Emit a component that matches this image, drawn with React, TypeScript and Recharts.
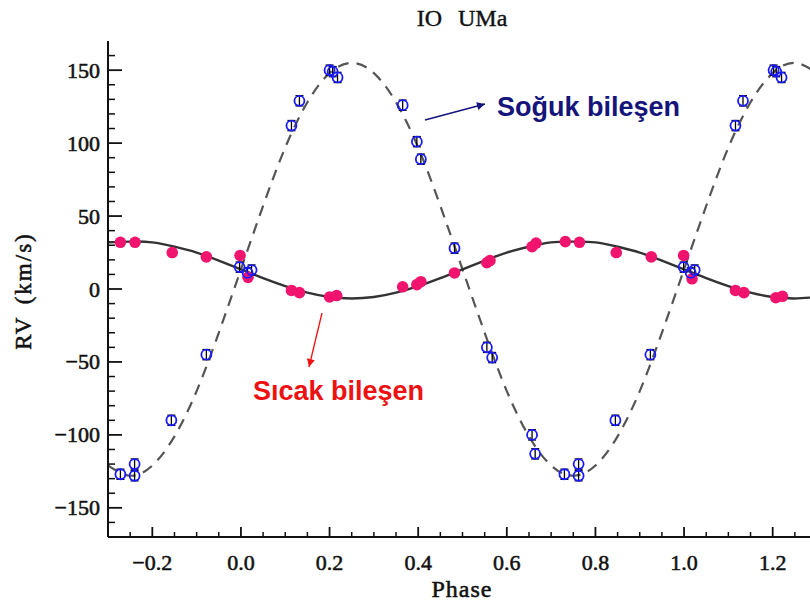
import React from 'react';
import { ComposedChart, Line, Scatter, XAxis, YAxis, ErrorBar } from 'recharts';

// Cold component (Soğuk bileşen) radial velocities
const coldPhase = [-0.272, -0.24, -0.24, -0.157, -0.078, -0.003, 0.015, 0.024, 0.114, 0.132, 0.2, 0.207, 0.218, 0.365, 0.397, 0.406, 0.482, 0.555, 0.567, 0.657, 0.664, 0.73, 0.762, 0.762, 0.845, 0.924, 0.999, 1.015, 1.024, 1.116, 1.133, 1.202, 1.208, 1.22];
const coldRV = [-127, -120, -128, -90, -45, 15, 11, 13, 112, 129, 150, 149, 145, 126, 101, 89, 28, -40, -47, -100, -113, -127, -120, -128, -90, -45, 15, 11, 13, 112, 129, 150, 149, 145];
const coldErr = [3.5, 3.5, 3.5, 3.5, 3.5, 3.5, 3.5, 3.5, 3.5, 3.5, 3.5, 3.5, 3.5, 3.5, 3.5, 3.5, 3.5, 3.5, 3.5, 3.5, 3.5, 3.5, 3.5, 3.5, 3.5, 3.5, 3.5, 3.5, 3.5, 3.5, 3.5, 3.5, 3.5, 3.5];

// Hot component (Sıcak bileşen) radial velocities
const hotPhase = [-0.272, -0.239, -0.155, -0.078, -0.002, 0.016, 0.114, 0.132, 0.2, 0.216, 0.365, 0.397, 0.406, 0.482, 0.555, 0.562, 0.657, 0.666, 0.732, 0.764, 0.847, 0.926, 0.999, 1.018, 1.116, 1.135, 1.207, 1.222];
const hotRV = [32, 32, 25, 22, 23, 8, -1, -2.5, -5.5, -4.5, 1.5, 3, 5, 11, 18, 19.5, 29, 31.5, 32.5, 32, 25, 22, 23, 7, -1, -2.5, -6, -5];

// Fitted orbit curves
const fitPhase = [-0.3, -0.25, -0.2, -0.15, -0.1, -0.05, 0, 0.05, 0.1, 0.15, 0.2, 0.25, 0.3, 0.35, 0.4, 0.45, 0.5, 0.55, 0.6, 0.65, 0.7, 0.75, 0.8, 0.85, 0.9, 0.95, 1.0, 1.05, 1.1, 1.15, 1.2, 1.25, 1.3];
const coldFitRV = [-121, -128, -121, -101, -70, -30, 13.5, 57, 97, 128, 148, 155, 148, 128, 97, 57, 13.5, -30, -70, -101, -121, -128, -121, -101, -70, -30, 13.5, 57, 97, 128, 148, 155, 148];
const hotFitRV = [32, 32.5, 32, 29, 25, 19.5, 13.5, 7.5, 2, -2.5, -5.5, -6.5, -5.5, -2.5, 2, 7.5, 13.5, 19.5, 25, 29, 32, 32.5, 32, 29, 25, 19.5, 13.5, 7.5, 2, -2.5, -5.5, -6.5, -5.5];

// Axes
const xMajorTicks = [-0.2, 0, 0.2, 0.4, 0.6, 0.8, 1.0, 1.2];
const xTickLabels = ['\u22120.2', '0.0', '0.2', '0.4', '0.6', '0.8', '1.0', '1.2'];
const xMinorTicks = [-0.25, -0.15, -0.1, -0.05, 0.05, 0.1, 0.15, 0.25, 0.3, 0.35, 0.45, 0.5, 0.55, 0.65, 0.7, 0.75, 0.85, 0.9, 0.95, 1.05, 1.1, 1.15, 1.25];
const yMajorTicks = [-150, -100, -50, 0, 50, 100, 150];
const yTickLabels = ['\u2212150', '\u2212100', '\u221250', '0', '50', '100', '150'];
const yMinorTicks = [-160, -140, -130, -120, -110, -90, -80, -70, -60, -40, -30, -20, -10, 10, 20, 30, 40, 60, 70, 80, 90, 110, 120, 130, 140, 160];

const coldData = coldPhase.map((p, i) => ({ phase: p, rv: coldRV[i], err: coldErr[i] }));
const hotData = hotPhase.map((p, i) => ({ phase: p, rv: hotRV[i] }));
const coldFit = fitPhase.map((p, i) => ({ phase: p, rv: coldFitRV[i] }));
const hotFit = fitPhase.map((p, i) => ({ phase: p, rv: hotFitRV[i] }));

const allXTicks = [...xMajorTicks, ...xMinorTicks].sort((a, b) => a - b);
const allYTicks = [...yMajorTicks, ...yMinorTicks].sort((a, b) => a - b);

const SERIF = '"Liberation Serif", "DejaVu Serif", serif';
const SANS = '"Liberation Sans", Arial, sans-serif';
const INK = '#111';

const idx = (arr: number[], v: number) => arr.findIndex((a) => Math.abs(a - v) < 1e-6);

const BottomTick = (props: any) => {
  const { x, y, payload } = props;
  const i = idx(xMajorTicks, payload.value);
  const major = i >= 0;
  return (
    <g>
      <line x1={x} x2={x} y1={y} y2={y - (major ? 10 : 5)} stroke={INK} strokeWidth={major ? 1.8 : 1.5} />
      {major && (
        <text x={x} y={y + 33} textAnchor="middle" fontFamily={SERIF} fontSize={22} fill={INK} stroke={INK} strokeWidth={0.55}>
          {xTickLabels[i]}
        </text>
      )}
    </g>
  );
};

const TopTick = (props: any) => {
  const { x, y, payload } = props;
  const major = idx(xMajorTicks, payload.value) >= 0;
  return <line x1={x} x2={x} y1={y} y2={y + (major ? 10 : 5)} stroke={INK} strokeWidth={major ? 1.8 : 1.5} />;
};

const LeftTick = (props: any) => {
  const { x, y, payload } = props;
  const i = idx(yMajorTicks, payload.value);
  const major = i >= 0;
  return (
    <g>
      <line x1={x} x2={x + (major ? 14 : 7)} y1={y} y2={y} stroke={INK} strokeWidth={major ? 1.8 : 1.5} />
      {major && (
        <text x={x - 8} y={y + 7.5} textAnchor="end" fontFamily={SERIF} fontSize={22} fill={INK} stroke={INK} strokeWidth={0.55}>
          {yTickLabels[i]}
        </text>
      )}
    </g>
  );
};

const RightTick = (props: any) => {
  const { x, y, payload } = props;
  const major = idx(yMajorTicks, payload.value) >= 0;
  return <line x1={x} x2={x - (major ? 14 : 7)} y1={y} y2={y} stroke={INK} strokeWidth={major ? 1.8 : 1.5} />;
};

const ColdDot = (p: any) => (
  <circle cx={p.cx} cy={p.cy} r={5} fill="none" stroke="#1a1aff" strokeWidth={1.8} />
);
const HotDot = (p: any) => <circle cx={p.cx} cy={p.cy} r={5.8} fill="#f0146e" />;

export default function App() {
  return (
    <div style={{ position: 'fixed', left: 0, top: 0, width: 810, height: 606, overflow: 'hidden', background: '#fff' }}>
      <div style={{ position: 'absolute', left: 0, top: 0 }}>
        <ComposedChart width={830} height={606} margin={{ top: 41, right: 13, bottom: 0, left: 0 }}>
          <XAxis
            xAxisId={0}
            dataKey="phase"
            type="number"
            domain={[-0.3, 1.3]}
            allowDataOverflow
            ticks={allXTicks}
            interval={0}
            height={69}
            tickSize={0}
            tickMargin={0}
            tickLine={false}
            tick={BottomTick}
            axisLine={{ stroke: INK, strokeWidth: 2 }}
          />
          <XAxis
            xAxisId="top"
            orientation="top"
            type="number"
            domain={[-0.3, 1.3]}
            allowDataOverflow
            ticks={allXTicks}
            interval={0}
            height={0}
            tickSize={0}
            tickMargin={0}
            tickLine={false}
            tick={TopTick}
            axisLine={{ stroke: INK, strokeWidth: 2 }}
          />
          <YAxis
            yAxisId={0}
            type="number"
            domain={[-170, 170]}
            allowDataOverflow
            ticks={allYTicks}
            interval={0}
            width={108}
            tickSize={0}
            tickMargin={0}
            tickLine={false}
            tick={LeftTick}
            axisLine={{ stroke: INK, strokeWidth: 2 }}
          />
          <YAxis
            yAxisId="right"
            orientation="right"
            type="number"
            domain={[-170, 170]}
            allowDataOverflow
            ticks={allYTicks}
            interval={0}
            width={0}
            tickSize={0}
            tickMargin={0}
            tickLine={false}
            tick={RightTick}
            axisLine={{ stroke: INK, strokeWidth: 2 }}
          />
          <Scatter data={hotData} dataKey="rv" shape={HotDot} isAnimationActive={false} />
          <Line
            data={coldFit}
            dataKey="rv"
            type="natural"
            dot={false}
            activeDot={false}
            stroke="#555"
            strokeWidth={2.2}
            strokeDasharray="11 8"
            isAnimationActive={false}
          />
          <Line
            data={hotFit}
            dataKey="rv"
            type="natural"
            dot={false}
            activeDot={false}
            stroke="#333"
            strokeWidth={2.4}
            isAnimationActive={false}
          />
          <Scatter data={coldData} dataKey="rv" shape={ColdDot} isAnimationActive={false}>
            <ErrorBar dataKey="err" direction="y" width={4} stroke="#000" strokeWidth={1.3} />
          </Scatter>
        </ComposedChart>
      </div>
      <svg width={810} height={606} style={{ position: 'absolute', left: 0, top: 0, pointerEvents: 'none' }}>
        <defs>
          <marker id="arrNavy" viewBox="0 0 10 10" refX="10" refY="5" markerWidth="11" markerHeight="8" markerUnits="userSpaceOnUse" orient="auto">
            <path d="M0,0 L10,5 L0,10 z" fill="#14147a" />
          </marker>
          <marker id="arrRed" viewBox="0 0 10 10" refX="10" refY="5" markerWidth="11" markerHeight="8" markerUnits="userSpaceOnUse" orient="auto">
            <path d="M0,0 L10,5 L0,10 z" fill="#ee1111" />
          </marker>
        </defs>
        <text x={462} y={26} textAnchor="middle" fontFamily={SERIF} fontSize={24} fill={INK} stroke={INK} strokeWidth={0.4} style={{ wordSpacing: 10 }}>
          IO UMa
        </text>
        <text x={462} y={597} textAnchor="middle" fontFamily={SERIF} fontSize={24} fill={INK} stroke={INK} strokeWidth={0.55} letterSpacing={1}>
          Phase
        </text>
        <text
          transform="translate(31,291) rotate(-90)"
          textAnchor="middle"
          fontFamily={SERIF}
          fontSize={23}
          fill={INK}
          stroke={INK}
          strokeWidth={0.55}
          letterSpacing={2}
          style={{ wordSpacing: 4 }}
        >
          RV (km/s)
        </text>
        <line x1={425} y1={120} x2={485} y2={104} stroke="#14147a" strokeWidth={1.5} markerEnd="url(#arrNavy)" />
        <text x={497} y={116} fontFamily={SANS} fontWeight="bold" fontSize={27} fill="#14147a">
          Soğuk bileşen
        </text>
        <line x1={322} y1={313} x2={309} y2={367} stroke="#ee1111" strokeWidth={1.3} markerEnd="url(#arrRed)" />
        <text x={253} y={400} fontFamily={SANS} fontWeight="bold" fontSize={27} fill="#ee1111">
          Sıcak bileşen
        </text>
      </svg>
    </div>
  );
}
